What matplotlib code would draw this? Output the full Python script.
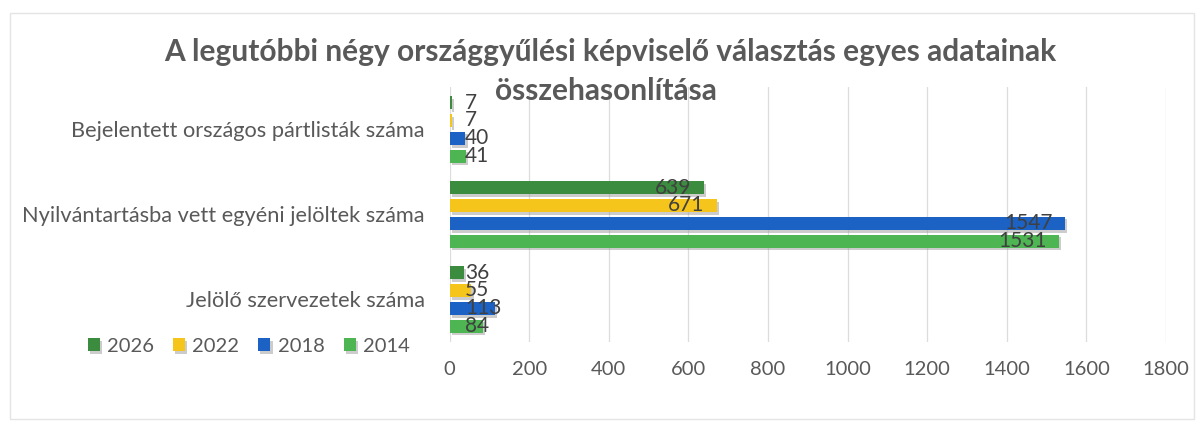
import numpy as np
import matplotlib
matplotlib.use("Agg")
from matplotlib import pyplot as plt
from matplotlib import patheffects as pe
from matplotlib.patches import Rectangle

plt.rcParams['font.family'] = ['Lato', 'DejaVu Sans']

# Data
categories = ["Bejelentett országos pártlisták száma",
              "Nyilvántartásba vett egyéni jelöltek száma",
              "Jelölő szervezetek száma"]
years = ["2026", "2022", "2018", "2014"]
v2026 = [7, 639, 36]
v2022 = [7, 671, 55]
v2018 = [40, 1547, 113]
v2014 = [41, 1531, 84]
series = [v2026, v2022, v2018, v2014]
colors = ["#3b8c3e", "#f6c51b", "#1c62c4", "#4db552"]

title_lines = ["A legutóbbi négy országgyűlési képviselő választás egyes adatainak",
               "összehasonlítása"]
text_col = "#404040"

fig = plt.figure(figsize=(12.02, 4.30), dpi=100)
ax = fig.add_axes([0.374, 0.205, 0.596, 0.593])

# Light frame around the whole chart
fig.patches.append(Rectangle((0.008, 0.025), 0.985, 0.945, transform=fig.transFigure,
                             fill=False, ec="#e4e4e4", lw=1))

pitch = 0.21
height = 0.155
shadow = [pe.SimplePatchShadow(offset=(1.5, -2), shadow_rgbFace="#9a9a9a", alpha=0.5), pe.Normal()]
for j, (vals, c, yr) in enumerate(zip(series, colors, years)):
    ys = np.arange(len(categories)) + (j - 1.5) * pitch
    bars = ax.barh(ys, vals, height=height, color=c, label=yr, zorder=3)
    for b in bars:
        b.set_path_effects(shadow)
    for y, v in zip(ys, vals):
        if v > 300:
            ax.annotate(str(v), (v, y), xytext=(-9, 0), textcoords="offset points",
                        ha="right", va="center", fontsize=15, color=text_col, zorder=4)
        else:
            ax.annotate(str(v), (0, y), xytext=(11, 0), textcoords="offset points",
                        ha="left", va="center", fontsize=15, color=text_col, zorder=4)

ax.set_ylim(2.5, -0.5)
ax.set_xlim(0, 1800)
ax.set_xticks(np.arange(0, 1801, 200))
ax.set_yticks(np.arange(len(categories)))
ax.set_yticklabels(categories)
ax.tick_params(axis="both", length=0, labelsize=14.5, colors="#595959")
ax.tick_params(axis="y", pad=18, labelsize=15.7)
ax.tick_params(axis="x", pad=14)
ax.grid(axis="x", color="#dcdcdc", lw=0.9, zorder=0)
for s in ax.spines.values():
    s.set_visible(False)

# Title, one text per line
for k, (line, ypos) in enumerate(zip(title_lines, [0.878, 0.788])):
    fig.text(0.508 if k == 0 else 0.504, ypos, line, ha="center", va="center",
             fontsize=21.5, fontweight="bold", color="#595959")

fig.legend(loc="center left", bbox_to_anchor=(0.058, 0.195), ncol=4, frameon=False,
           fontsize=14.5, handlelength=0.6, handleheight=0.6, handletextpad=0.35,
           columnspacing=0.95, labelcolor="#595959")

fig.savefig("out.png", dpi=100)
